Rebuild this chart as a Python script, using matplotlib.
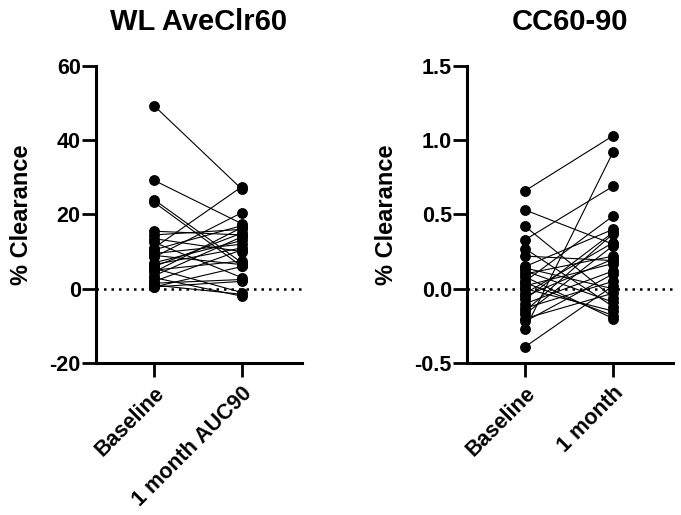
import matplotlib
matplotlib.use("Agg")
import matplotlib.pyplot as plt

plt.rcParams['font.family'] = ['Liberation Sans', 'DejaVu Sans']
plt.rcParams['font.weight'] = 'bold'

# Left panel: WL AveClr60 (paired baseline -> 1 month AUC90)
wl_categories = ["Baseline", "1 month AUC90"]
wl_baseline = [49.3, 29.2, 24.0, 23.3, 15.5, 14.5, 13.5, 12.5, 11.0, 10.5, 9.5, 9.0, 8.5,
               7.0, 6.5, 6.0, 5.5, 5.0, 4.5, 3.5, 3.0, 2.0, 1.5, 1.0, 0.5, 0.5]
wl_month1 = [26.8, 17.5, 7.0, 6.0, 14.5, 16.0, 10.0, 3.0, 27.5, 17.0, 12.0, 6.5, 20.5,
             13.0, 11.0, 15.0, -1.0, 7.5, 16.5, 14.0, -2.0, 10.5, 2.5, -1.5, 6.0, 2.0]
wl_yticks = [-20, 0, 20, 40, 60]

# Right panel: CC60-90 (paired baseline -> 1 month)
cc_categories = ["Baseline", "1 month"]
cc_baseline = [0.66, 0.53, 0.42, 0.33, 0.27, 0.22, 0.15, 0.12, 0.10, 0.05, 0.02, 0.00, -0.03,
               -0.07, -0.10, -0.13, -0.17, -0.20, -0.22, -0.27, -0.39, 0.08, -0.05, 0.14, -0.15, 0.04]
cc_month1 = [1.03, 0.30, -0.06, 0.69, -0.12, 0.19, 0.40, -0.09, 0.22, 0.49, 0.17, -0.15, 0.31,
             0.38, 0.12, 0.05, 0.29, -0.03, 0.10, 0.92, 0.02, -0.20, 0.20, 0.00, 0.37, -0.18]
cc_yticks = [-0.5, 0.0, 0.5, 1.0, 1.5]

fig = plt.figure(figsize=(6.81, 5.15), dpi=100)
ax1 = fig.add_axes([0.141, 0.295, 0.302, 0.577])
ax2 = fig.add_axes([0.686, 0.295, 0.302, 0.577])


def draw(ax, base, month, cats, yticks, title, fmt):
    for b, m in zip(base, month):
        ax.plot([0, 1], [b, m], color='black', lw=0.8, zorder=2)
    ax.plot([0] * len(base), base, 'o', color='black', ms=6.8, zorder=3)
    ax.plot([1] * len(month), month, 'o', color='black', ms=6.8, zorder=3)
    ax.axhline(0, color='black', lw=1.8, ls=(0, (1, 2)), zorder=1)
    ax.set_xlim(-0.66, 1.68)
    ax.set_ylim(yticks[0], yticks[-1])
    ax.set_yticks(yticks)
    ax.set_yticklabels([fmt.format(v) for v in yticks])
    ax.set_xticks([0, 1])
    ax.set_xticklabels(cats, rotation=45, ha='right', rotation_mode='anchor')
    for s in ['top', 'right']:
        ax.spines[s].set_visible(False)
    for s in ['left', 'bottom']:
        ax.spines[s].set_linewidth(2.2)
    ax.tick_params(axis='both', width=2.0, length=10, labelsize=15.5, pad=1)
    ax.tick_params(axis='x', pad=4)
    for lab in ax.get_xticklabels() + ax.get_yticklabels():
        lab.set_fontweight('bold')
    ax.set_ylabel("% Clearance", fontsize=17, fontweight='bold', labelpad=12)
    ax.set_title(title, fontsize=21, fontweight='bold', pad=26)


draw(ax1, wl_baseline, wl_month1, wl_categories, wl_yticks, "WL AveClr60", "{:d}")
draw(ax2, cc_baseline, cc_month1, cc_categories, cc_yticks, "CC60-90", "{:.1f}")

fig.savefig("out.png", dpi=100)
